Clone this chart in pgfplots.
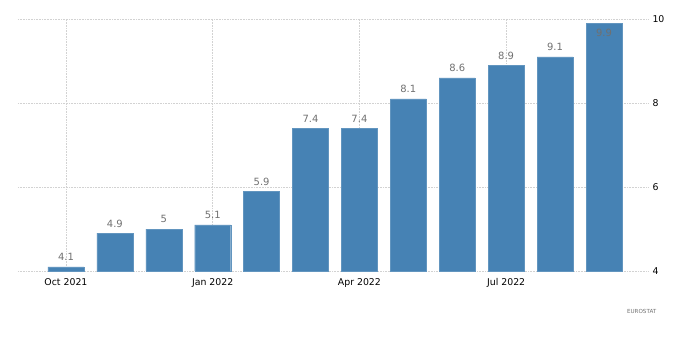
\documentclass[border=0pt]{standalone}
\usepackage{pgfplots}
\pgfplotsset{compat=1.18}
\usepackage{fontspec}
\setmainfont{DejaVu Sans}
\definecolor{barblue}{HTML}{4682B4}
\definecolor{lblgray}{HTML}{707070}
\begin{document}
\begin{tikzpicture}
\path[use as bounding box] (-18bp,-89bp) rectangle (682bp,271bp);
\begin{axis}[
  at={(0,0)}, anchor=south west,
  scale only axis,
  width=630bp, height=252bp,
  xmin=-0.98, xmax=11.9,
  ymin=4, ymax=10,
  axis line style={draw=none},
  xtick={0,3,6,9},
  xticklabels={Oct 2021,Jan 2022,Apr 2022,Jul 2022},
  ytick={4,6,8,10},
  ytick pos=right,
  yticklabel pos=right,
  major tick length=0pt,
  tick label style={font=\fontsize{9.4}{11}\selectfont, text=black},
  xticklabel style={yshift=-4bp},
  yticklabel style={xshift=1bp},
  grid=major,
  major grid style={draw=gray!35, line width=0.6pt, dash pattern=on 0.8pt off 0.8pt},
  /pgf/number format/assume math mode=true,
  clip=false,
]
\addplot[ybar, bar width=36bp, fill=barblue, draw=barblue!85!white, line width=0.3pt,
  nodes near coords, point meta=explicit symbolic,
  every node near coord/.style={font=\fontsize{10}{12}\selectfont, text=lblgray, yshift=2.5bp}]
  table[meta=label] {
x y label
0 4.1 4.1
1 4.9 4.9
2 5.0 5
3 5.1 5.1
4 5.9 5.9
5 7.4 7.4
6 7.4 7.4
7 8.1 8.1
8 8.6 8.6
9 8.9 8.9
10 9.1 9.1
};
\addplot[ybar, bar width=36bp, fill=barblue, draw=barblue!85!white, line width=0.3pt,
  nodes near coords, point meta=explicit symbolic,
  every node near coord/.style={font=\fontsize{10}{12}\selectfont, text=lblgray, anchor=north, yshift=-2bp}]
  table[meta=label] {
x y label
11 9.9 9.9
};
\node[font=\fontsize{5.6}{7}\selectfont, text=lblgray] at (rel axis cs:0.990,-0.159) {EUROSTAT};
\end{axis}
\end{tikzpicture}
\end{document}
